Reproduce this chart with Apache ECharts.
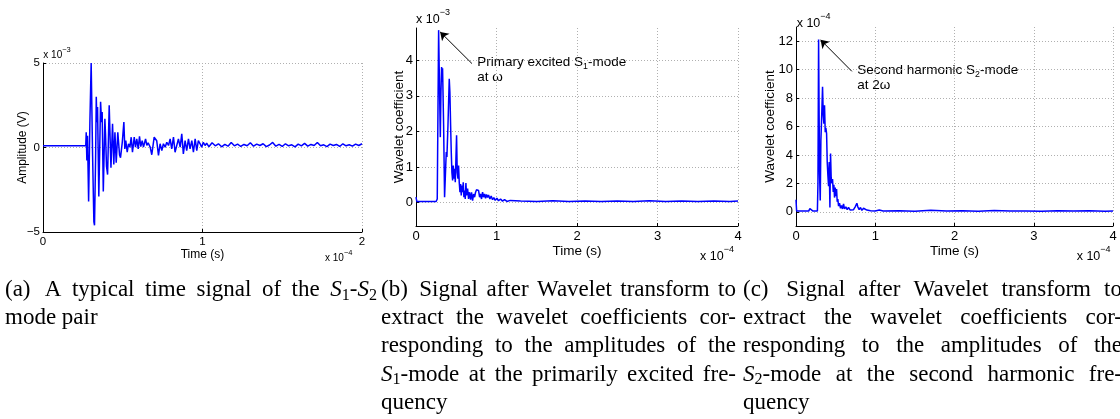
<!DOCTYPE html>
<html><head><meta charset="utf-8">
<script src="https://cdn.jsdelivr.net/npm/echarts@6/dist/echarts.min.js"></script>
<style>html,body{margin:0;padding:0;background:#fff}#c{width:1120px;height:419px}</style>
</head><body><div id="c"></div><script>
// ---------- DATA (time in units of 1e-4 s) ----------
// (a) time signal, amplitude in 1e-3 V
const timeA = [0, 0.20, 0.268, 0.271, 0.275, 0.279, 0.286, 0.294, 0.302, 0.311, 0.319, 0.323, 0.330, 0.334, 0.338, 0.342, 0.350, 0.361, 0.367, 0.371, 0.378, 0.388, 0.392, 0.398, 0.405, 0.415, 0.426, 0.436, 0.444, 0.451, 0.459, 0.469, 0.480, 0.486, 0.497, 0.507, 0.513, 0.519, 0.528, 0.536, 0.545, 0.553, 0.561, 0.572, 0.580, 0.588, 0.597, 0.605, 0.613, 0.622, 0.630, 0.643, 0.651, 0.659, 0.672, 0.682, 0.697, 0.705, 0.713, 0.724, 0.734, 0.745, 0.755, 0.766, 0.776, 0.787, 0.797, 0.807, 0.818, 0.828, 0.839, 0.849, 0.860, 0.870, 0.880, 0.891, 0.901, 0.912, 0.922, 0.933, 0.943, 0.954, 0.964, 0.974, 0.985, 0.995, 1.005, 1.016, 1.026,
  1.04, 1.06, 1.08, 1.10, 1.12, 1.14, 1.16, 1.18, 1.20, 1.22, 1.24, 1.26, 1.28, 1.30, 1.32, 1.34, 1.36, 1.38, 1.40, 1.42, 1.44, 1.46, 1.48, 1.50, 1.52, 1.54, 1.56, 1.58, 1.60, 1.62, 1.64, 1.66, 1.68, 1.70, 1.72, 1.74, 1.76, 1.78, 1.80, 1.82, 1.84, 1.86, 1.88, 1.90, 1.92, 1.94, 1.96, 1.98, 2.00];
const ampA = [0.10, 0.10, 0.10, 0.90, -0.77, 0.70, -3.20, 1.50, 5.00, -0.50, -4.40, -4.60, -0.50, 3.00, 1.50, 2.40, -2.90, 2.70, 1.50, 2.10, -2.60, 1.70, 0.80, -1.10, -1.60, 2.50, -1.20, 1.40, -1.00, 0.90, -0.90, 0.90, -0.45, -0.60, 0.30, 1.50, -0.08, 0.41, -0.28, 0.22, 0.02, 0.61, -0.28, 0.61, 0.02, 0.51, -0.08, 0.66, 0.05, 0.41, 0.02, 0.51, 0.12, 0.28, 0.02, -0.43, 0.61, 0.70, 0.40, -0.47, 0.22, -0.18, 0.22, 0.02, 0.31, 0.12, 0.51, -0.08, 0.61, -0.28, -0.38, 0.51, 0.02, 0.81, -0.38, 0.41, -0.18, 0.51, -0.08, 0.41, -0.28, 0.51, -0.18, 0.41, 0.22, 0.02, 0.31, 0.12, 0.25,
  0.05, 0.28, 0.10, 0.22, 0.04, 0.18, 0.08, 0.30, 0.10, 0.20, 0.06, 0.18, 0.10, 0.28, 0.08, 0.20, 0.12, 0.22, 0.05, 0.15, 0.30, 0.08, 0.18, 0.06, 0.22, 0.10, 0.16, 0.04, 0.20, 0.10, 0.24, 0.08, 0.18, 0.12, 0.30, 0.10, 0.16, 0.05, 0.20, 0.12, 0.18, 0.06, 0.22, 0.10, 0.16, 0.08, 0.20, 0.12, 0.22];

// (b) wavelet coefficient at omega, in 1e-3
const timeB = [0, 0.01, 0.25, 0.264, 0.281, 0.293, 0.302, 0.31, 0.318, 0.324, 0.33, 0.343, 0.355, 0.368, 0.376, 0.384, 0.397, 0.413, 0.421, 0.43, 0.438, 0.446, 0.455, 0.463, 0.471, 0.479, 0.488, 0.496, 0.504, 0.512, 0.521, 0.529, 0.537, 0.546, 0.554, 0.562, 0.57, 0.579, 0.587, 0.595, 0.603, 0.612, 0.62, 0.628, 0.641, 0.653, 0.665, 0.678, 0.69, 0.703, 0.715, 0.728, 0.74, 0.752, 0.765, 0.777, 0.79, 0.802, 0.814, 0.827, 0.839, 0.852, 0.864, 0.876, 0.889, 0.901, 0.918, 0.934, 0.951, 0.967, 0.984, 1.005, 1.025, 1.05, 1.075, 1.1, 1.13, 1.17, 1.3, 1.5, 1.7, 1.9, 2.1, 2.3, 2.5, 2.7, 2.9, 3.1, 3.3, 3.5, 3.7, 3.9, 4.0];
const coefB = [0.15, 0.03, 0.03, 0.10, 4.85, 3.10, 1.84, 3.10, 3.81, 3.40, 3.78, 2.17, 0.15, 0.95, 1.42, 1.28, 2.17, 3.48, 3.10, 2.17, 1.42, 0.85, 0.62, 1.04, 0.67, 0.95, 0.57, 1.23, 1.89, 0.85, 0.67, 1.04, 0.57, 0.29, 0.52, 0.20, 0.48, 0.29, 0.57, 0.15, 0.34, 0.10, 0.55, 0.20, 0.39, 0.10, 0.29, 0.08, 0.29, 0.05, 0.24, 0.15, 0.29, 0.36, 0.41, 0.34, 0.15, 0.24, 0.10, 0.29, 0.15, 0.24, 0.12, 0.23, 0.14, 0.21, 0.10, 0.18, 0.08, 0.14, 0.06, 0.12, 0.05, 0.10, 0.04, 0.08, 0.03, 0.06, 0.04, 0.03, 0.05, 0.03, 0.04, 0.03, 0.04, 0.03, 0.05, 0.03, 0.04, 0.03, 0.04, 0.03, 0.04];

// (c) wavelet coefficient at 2 omega, in 1e-4
const timeC = [0, 0.008, 0.16, 0.175, 0.2, 0.215, 0.27, 0.277, 0.285, 0.293, 0.297, 0.306, 0.314, 0.323, 0.335, 0.344, 0.352, 0.36, 0.369, 0.377, 0.386, 0.394, 0.402, 0.411, 0.419, 0.428, 0.436, 0.444, 0.453, 0.461, 0.47, 0.478, 0.486, 0.495, 0.503, 0.512, 0.52, 0.528, 0.537, 0.549, 0.562, 0.575, 0.587, 0.6, 0.612, 0.629, 0.646, 0.663, 0.684, 0.705, 0.726, 0.747, 0.768, 0.78, 0.797, 0.814, 0.831, 0.852, 0.873, 0.894, 0.915, 0.94, 0.965, 0.999, 1.05, 1.1, 1.3, 1.5, 1.7, 1.9, 2.1, 2.3, 2.5, 2.7, 2.9, 3.1, 3.3, 3.5, 3.7, 3.9, 4.0];
const coefC = [0.85, 0.05, 0.05, 0.22, 0.18, 0.05, 0.05, 2.0, 12.12, 6.0, 2.7, 0.8, 5.0, 6.5, 8.8, 6.8, 6.2, 7.5, 5.6, 5.9, 5.5, 3.5, 2.6, 1.8, 3.5, 0.3, 4.1, 2.4, 2.0, 2.3, 1.4, 1.9, 1.0, 1.7, 1.1, 1.6, 0.7, 0.9, 0.4, 0.6, 0.25, 0.45, 0.2, 0.55, 0.2, 0.35, 0.15, 0.3, 0.12, 0.25, 0.15, 0.35, 0.6, 0.35, 0.15, 0.3, 0.1, 0.25, 0.3, 0.12, 0.2, 0.08, 0.15, 0.06, 0.12, 0.05, 0.08, 0.04, 0.1, 0.05, 0.07, 0.04, 0.09, 0.05, 0.06, 0.04, 0.08, 0.05, 0.07, 0.04, 0.06];

// tick values
const yTicksA = [-5, 0, 5];
const yTicksB = [0, 1, 2, 3, 4];
const yTicksC = [0, 2, 4, 6, 8, 10, 12];

// annotation arrows (data coords: [time, value]) from peak to label
const arrowB = [[0.30, 4.80], [0.695, 3.91]];
const arrowC = [[0.31, 12.1], [0.705, 9.88]];

// texts
const annoB = ["Primary excited S_1-mode", "at ω"];
const annoC = ["Second harmonic S_2-mode", "at 2ω"];
const captionA = ["(a) A typical time signal of the S_1-S_2", "mode pair"];
const captionB = ["(b) Signal after Wavelet transform to", "extract the wavelet coefficients cor-", "responding to the amplitudes of the", "S_1-mode at the primarily excited fre-", "quency"];
const captionC = ["(c) Signal after Wavelet transform to", "extract the wavelet coefficients cor-", "responding to the amplitudes of the", "S_2-mode at the second harmonic fre-", "quency"];

// ---------- rendering ----------
const SANS = "'Liberation Sans', Arial, sans-serif";
const SERIF = "'Liberation Serif', 'Times New Roman', serif";
const mctx = document.createElement('canvas').getContext('2d');
function fontOf(s){ return (s.italic?'italic':'normal')+' normal '+s.size+'px '+s.family; }
function segWidth(s){ mctx.font = fontOf(s); return mctx.measureText(s.text).width; }
function parseWord(word, o){
  const segs=[]; let buf='';
  const flush=()=>{ if(buf){ segs.push({text:buf,size:o.size,family:o.family,italic:false,dy:0}); buf=''; } };
  for(let i=0;i<word.length;i++){
    const ch=word[i];
    if(ch==='_'){ flush(); segs.push({text:word[i+1],size:o.size*o.subScale,family:o.family,italic:false,dy:o.subDy}); i++; }
    else if(ch==='^'){ flush(); segs.push({text:word.slice(i+1),size:o.size*o.subScale,family:o.family,italic:false,dy:o.supDy}); break; }
    else if(o.italicS && ch==='S' && word[i+1]==='_'){ flush(); segs.push({text:'S',size:o.size,family:o.family,italic:true,dy:0}); }
    else buf+=ch;
  }
  flush(); return segs;
}
function placeSegs(x, y, segs, out){
  for(const s of segs){
    out.push({type:'text', silent:true, x:x, y:y+s.dy, style:{text:s.text, fontSize:s.size, fontFamily:s.family, fontStyle:s.italic?'italic':'normal', fill:'#000', textAlign:'left', textVerticalAlign:'middle', align:'left', verticalAlign:'middle'}});
    x += segWidth(s);
  }
  return x;
}
function layoutLine(text, x0, x1, y, o, justify, firstW, out){
  const words = text.split(' ').map(w=>parseWord(w,o));
  const widths = words.map(ss=>ss.reduce((a,s)=>a+segWidth(s),0));
  const total = widths.reduce((a,b)=>a+b,0);
  const sp = segWidth({text:' ',size:o.size,family:o.family,italic:false});
  const n = words.length;
  const weights = words.slice(1).map((_,i)=> i===0 ? firstW : 1);
  const wsum = weights.reduce((a,b)=>a+b,0);
  const unit = (justify && n>1) ? (x1-x0-total)/wsum : sp;
  let x = x0;
  words.forEach((ss,i)=>{ placeSegs(x,y,ss,out); x+=widths[i]; if(i<n-1) x += justify ? unit*weights[i] : unit; });
}

const graphics = [];
// captions
const capOpt = {family:SERIF, size:23, subScale:0.7, subDy:5.5, supDy:-7, italicS:true};
const lineY = [290, 318.2, 346.4, 374.6, 402.8];
function caption(lines, x0, x1){
  lines.forEach((t,i)=> layoutLine(t, x0, x1, lineY[i], capOpt, i<lines.length-1, i===0?1.35:1, graphics));
}
caption(captionA, 5, 377);
caption(captionB, 381, 736);
caption(captionC, 743, 1122);
// annotations
const annOpt = {family:SANS, size:13.5, subScale:0.65, subDy:4, supDy:-6, italicS:false};
annoB.forEach((t,i)=> layoutLine(t, 477.3, 0, 62.7+i*15, annOpt, false, 1, graphics));
annoC.forEach((t,i)=> layoutLine(t, 857.3, 0, 70.7+i*15, annOpt, false, 1, graphics));
// exponent labels
const expS = {family:SANS, size:10, subScale:0.75, subDy:0, supDy:-5.5, italicS:false};
const expL = {family:SANS, size:12.5, subScale:0.72, subDy:0, supDy:-7, italicS:false};
layoutLine("x 10^−3", 43.3, 0, 55.5, expS, false, 1, graphics);
layoutLine("x 10^−4", 325, 0, 258, expS, false, 1, graphics);
layoutLine("x 10^−3", 416, 0, 20, expL, false, 1, graphics);
layoutLine("x 10^−4", 700, 0, 256.7, expL, false, 1, graphics);
layoutLine("x 10^−4", 796.7, 0, 24, expL, false, 1, graphics);
layoutLine("x 10^−4", 1076.7, 0, 256.7, expL, false, 1, graphics);

const gridLine = {show:true, lineStyle:{color:'#b0b0b0', type:[1,2], width:1}};
const minusFmt = v => String(v).replace('-', '−');
function xAx(g, max, fs, gap){
  return {gridIndex:g, type:'value', min:0, max:max, interval:1, name:'Time (s)', nameLocation:'middle', nameGap:gap,
    nameTextStyle:{fontFamily:SANS, fontSize:fs+0.5, color:'#000'},
    axisLine:{show:true, onZero:false, lineStyle:{color:'#000', width:1}},
    axisTick:{show:true, inside:true, length:3, lineStyle:{color:'#000'}},
    axisLabel:{fontFamily:SANS, fontSize:fs, color:'#000', margin:4},
    splitLine:gridLine};
}
function yAx(g, min, max, ticks, name, fs, gap){
  return {gridIndex:g, type:'value', min:min, max:max, name:name, nameLocation:'middle', nameGap:gap, nameMoveOverlap:false,
    nameTextStyle:{fontFamily:SANS, fontSize:fs+0.5, color:'#000'},
    axisLine:{show:true, onZero:false, lineStyle:{color:'#000', width:1}},
    axisTick:{show:true, inside:true, length:3, lineStyle:{color:'#000'}, customValues:ticks},
    axisLabel:{fontFamily:SANS, fontSize:fs, color:'#000', margin:3, customValues:ticks, formatter:minusFmt},
    splitLine:gridLine};
}
function zip(t,v){ return t.map((x,i)=>[x, v[i]]); }
function arrowLine(a){
  return {silent:true, symbol:['arrow','none'], symbolSize:8, animation:false,
    lineStyle:{color:'#000', width:1, type:'solid'}, label:{show:false}, emphasis:{disabled:true},
    data:[[{coord:a[0]},{coord:a[1]}]]};
}
const lineStyle = {color:'#0000ff', width:1.5};

const chart = echarts.init(document.getElementById('c'), null, {renderer:'canvas'});
chart.setOption({
  animation:false,
  backgroundColor:'#fff',
  grid:[
    {left:43, top:63, width:319, height:169},
    {left:416, top:28, width:322, height:198},
    {left:796, top:27, width:317, height:199}
  ],
  xAxis:[xAx(0,2,11.5,14.5), xAx(1,4,13,16.5), xAx(2,4,13,16.5)],
  yAxis:[yAx(0,-5,5,yTicksA,'Amplitude (V)',11.5,14.3), yAx(1,-0.66,4.91,yTicksB,'Wavelet coefficient',13,10.2), yAx(2,-1,13,yTicksC,'Wavelet coefficient',13,18.5)],
  series:[
    {type:'line', xAxisIndex:0, yAxisIndex:0, data:zip(timeA,ampA), showSymbol:false, symbol:'none', lineStyle:lineStyle, clip:true},
    {type:'line', xAxisIndex:1, yAxisIndex:1, data:zip(timeB,coefB), showSymbol:false, symbol:'none', lineStyle:lineStyle, clip:true, markLine:arrowLine(arrowB)},
    {type:'line', xAxisIndex:2, yAxisIndex:2, data:zip(timeC,coefC), showSymbol:false, symbol:'none', lineStyle:lineStyle, clip:true, markLine:arrowLine(arrowC)}
  ],
  graphic: graphics
});
</script></body></html>
